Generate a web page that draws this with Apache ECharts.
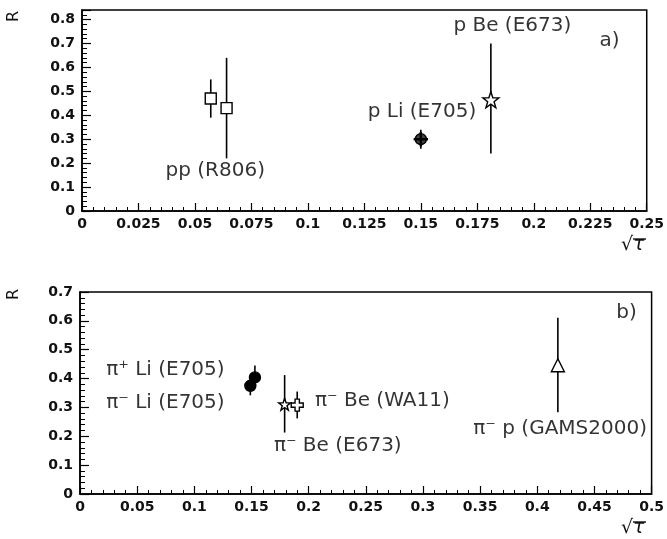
<!DOCTYPE html>
<html><head><meta charset="utf-8">
<script src="https://cdn.jsdelivr.net/npm/echarts@6/dist/echarts.min.js"></script>
<style>html,body{margin:0;padding:0;background:#fff}#c{width:667px;height:539px}</style>
</head><body><div id="c"></div>
<script>
// ---- Panel a) data ----
const ppX = [0.057, 0.064];
const ppY = [0.47, 0.43];
const ppLo = [0.39, 0.22];
const ppHi = [0.55, 0.64];
const pLiX = [0.150];
const pLiY = [0.300];
const pLiLo = [0.26];
const pLiHi = [0.34];
const pBeX = [0.181];
const pBeY = [0.465];
const pBeLo = [0.24];
const pBeHi = [0.70];
const labelsA = ["pp (R806)", "p Li (E705)", "p Be (E673)", "a)"];
const labelsAX = [0.0590, 0.1505, 0.1905, 0.2335];
const labelsAY = [0.166, 0.416, 0.775, 0.71];

// ---- Panel b) data ----
const piPlusLiX = [0.153];
const piPlusLiY = [0.404];
const piPlusLiLo = [0.37];
const piPlusLiHi = [0.445];
const piMinusLiX = [0.149];
const piMinusLiY = [0.375];
const piMinusLiLo = [0.342];
const piMinusLiHi = [0.40];
const piBeE673X = [0.179];
const piBeE673Y = [0.311];
const piBeE673Lo = [0.213];
const piBeE673Hi = [0.412];
const piBeWA11X = [0.190];
const piBeWA11Y = [0.308];
const piBeWA11Lo = [0.262];
const piBeWA11Hi = [0.355];
const piPX = [0.418];
const piPY = [0.446];
const piPLo = [0.283];
const piPHi = [0.611];
const labelsB = ["π⁺ Li (E705)", "π⁻ Li (E705)", "π⁻ Be (WA11)", "π⁻ Be (E673)", "π⁻ p (GAMS2000)", "b)"];
const labelsBX = [0.0747, 0.0747, 0.2645, 0.2255, 0.4200, 0.478];
const labelsBY = [0.430, 0.315, 0.323, 0.167, 0.225, 0.629];

// axis ticks
const xTicksA = {min: 0, max: 0.25, interval: 0.025};
const xTicksB = {min: 0, max: 0.5, interval: 0.05};
const yTicksA = {min: 0, max: 0.84, interval: 0.1};
const yTicksB = {min: 0, max: 0.7, interval: 0.1};

const STAR = 'path://M0,-10 L2.35,-3.24 L9.51,-3.09 L3.8,1.24 L5.88,8.09 L0,4 L-5.88,8.09 L-3.8,1.24 L-9.51,-3.09 L-2.35,-3.24 Z';
const PLUS = 'path://M-1.8,-5 L1.8,-5 L1.8,-1.8 L5,-1.8 L5,1.8 L1.8,1.8 L1.8,5 L-1.8,5 L-1.8,1.8 L-5,1.8 L-5,-1.8 L-1.8,-1.8 Z';
const CROSS = 'path://M-0.4,-5 L0.4,-5 L0.4,-0.4 L5,-0.4 L5,0.4 L0.4,0.4 L0.4,5 L-0.4,5 L-0.4,0.4 L-5,0.4 L-5,-0.4 L-0.4,-0.4 Z';

const FONT = 'DejaVu Sans';

function zip(a, b) { return a.map((v, i) => [v, b[i]]); }
function zip3(a, b, c) { return a.map((v, i) => [v, b[i], c[i]]); }

function errSeries(idx, x, lo, hi) {
  return {
    type: 'custom', xAxisIndex: idx, yAxisIndex: idx, z: 2, silent: true,
    data: zip3(x, lo, hi),
    renderItem: function (params, api) {
      const p1 = api.coord([api.value(0), api.value(1)]);
      const p2 = api.coord([api.value(0), api.value(2)]);
      return {type: 'line', shape: {x1: p1[0], y1: p1[1], x2: p2[0], y2: p2[1]},
        style: {stroke: '#000', lineWidth: 1.6}};
    }
  };
}
function markSeries(idx, x, y, symbol, size, fill, z) {
  return {
    type: 'scatter', xAxisIndex: idx, yAxisIndex: idx, z: z || 3, silent: true,
    symbol: symbol, symbolSize: size, data: zip(x, y),
    itemStyle: {color: fill, borderColor: '#000', borderWidth: 1.4, opacity: 1}
  };
}
function labelSeries(idx, xs, ys, texts) {
  return {
    type: 'scatter', xAxisIndex: idx, yAxisIndex: idx, z: 5, silent: true,
    symbolSize: 0, data: xs.map((v, i) => ({value: [v, ys[i]], name: texts[i]})),
    label: {show: true, position: 'inside', formatter: p => p.name,
      fontFamily: FONT, fontSize: 20, color: '#000'}
  };
}

function xAxis(idx, t) {
  return {
    type: 'value', gridIndex: idx, min: t.min, max: t.max, interval: t.interval,
    axisLine: {onZero: false, lineStyle: {color: '#000', width: 1.5}},
    axisTick: {inside: true, length: 8, lineStyle: {color: '#000', width: 1.2}},
    minorTick: {show: true, splitNumber: 5, length: 4, lineStyle: {color: '#000', width: 1}},
    splitLine: {show: false},
    axisLabel: {fontFamily: FONT, fontSize: 14, fontWeight: 'bold', color: '#111', margin: 6,
      showMaxLabel: true, showMinLabel: true,
      formatter: v => String(parseFloat(v.toFixed(3)))}
  };
}
function yAxis(idx, t) {
  return {
    type: 'value', gridIndex: idx, min: t.min, max: t.max, interval: t.interval,
    axisLine: {onZero: false, lineStyle: {color: '#000', width: 1.5}},
    axisTick: {inside: true, length: 9, lineStyle: {color: '#000', width: 1.2}},
    minorTick: {show: true, splitNumber: 5, length: 5, lineStyle: {color: '#000', width: 1}},
    splitLine: {show: false},
    axisLabel: {fontFamily: FONT, fontSize: 14, fontWeight: 'bold', color: '#111', margin: 7,
      showMaxLabel: t.max === 0.7, formatter: v => String(parseFloat(v.toFixed(3)))}
  };
}

const chart = echarts.init(document.getElementById('c'), null, {renderer: 'canvas'});
chart.setOption({
  backgroundColor: '#fff',
  animation: false,
  grid: [
    {left: 82, top: 10, width: 571, height: 201, show: true, borderColor: '#000', borderWidth: 1.5, backgroundColor: 'transparent'},
    {left: 80, top: 292, width: 574, height: 202, show: true, borderColor: '#000', borderWidth: 1.5, backgroundColor: 'transparent'}
  ],
  xAxis: [xAxis(0, xTicksA), xAxis(1, xTicksB)],
  yAxis: [yAxis(0, yTicksA), yAxis(1, yTicksB)],
  graphic: [
    {type: 'text', left: 6, top: 11, rotation: Math.PI / 2, style: {text: 'R', font: '16px ' + FONT, fill: '#111'}},
    {type: 'text', left: 6, top: 289, rotation: Math.PI / 2, style: {text: 'R', font: '16px ' + FONT, fill: '#111'}},
    {type: 'text', left: 621, top: 236, style: {text: '√τ', font: 'italic 19px ' + FONT, fill: '#111'}},
    {type: 'line', shape: {x1: 633, y1: 239, x2: 646, y2: 239}, style: {stroke: '#111', lineWidth: 1.4}},
    {type: 'text', left: 621, top: 519, style: {text: '√τ', font: 'italic 19px ' + FONT, fill: '#111'}},
    {type: 'line', shape: {x1: 633, y1: 522, x2: 646, y2: 522}, style: {stroke: '#111', lineWidth: 1.4}}
  ],
  series: [
    errSeries(0, ppX, ppLo, ppHi),
    errSeries(0, pLiX, pLiLo, pLiHi),
    errSeries(0, pBeX, pBeLo, pBeHi),
    markSeries(0, ppX, ppY, 'rect', 11, '#fff'),
    markSeries(0, pLiX, pLiY, 'circle', 11, '#444'),
    markSeries(0, pLiX, pLiY, CROSS, 13, '#000', 4),
    markSeries(0, pBeX, pBeY, STAR, 16, '#fff'),
    labelSeries(0, labelsAX, labelsAY, labelsA),

    errSeries(1, piPlusLiX, piPlusLiLo, piPlusLiHi),
    errSeries(1, piMinusLiX, piMinusLiLo, piMinusLiHi),
    errSeries(1, piBeE673X, piBeE673Lo, piBeE673Hi),
    errSeries(1, piBeWA11X, piBeWA11Lo, piBeWA11Hi),
    errSeries(1, piPX, piPLo, piPHi),
    markSeries(1, piMinusLiX, piMinusLiY, 'circle', 11, '#000'),
    markSeries(1, piPlusLiX, piPlusLiY, 'circle', 11, '#000'),
    markSeries(1, piBeE673X, piBeE673Y, STAR, 12, '#fff'),
    markSeries(1, piBeWA11X, piBeWA11Y, PLUS, 12, '#fff'),
    markSeries(1, piPX, piPY, 'triangle', 13, '#fff'),
    labelSeries(1, labelsBX, labelsBY, labelsB)
  ]
});
</script></body></html>
